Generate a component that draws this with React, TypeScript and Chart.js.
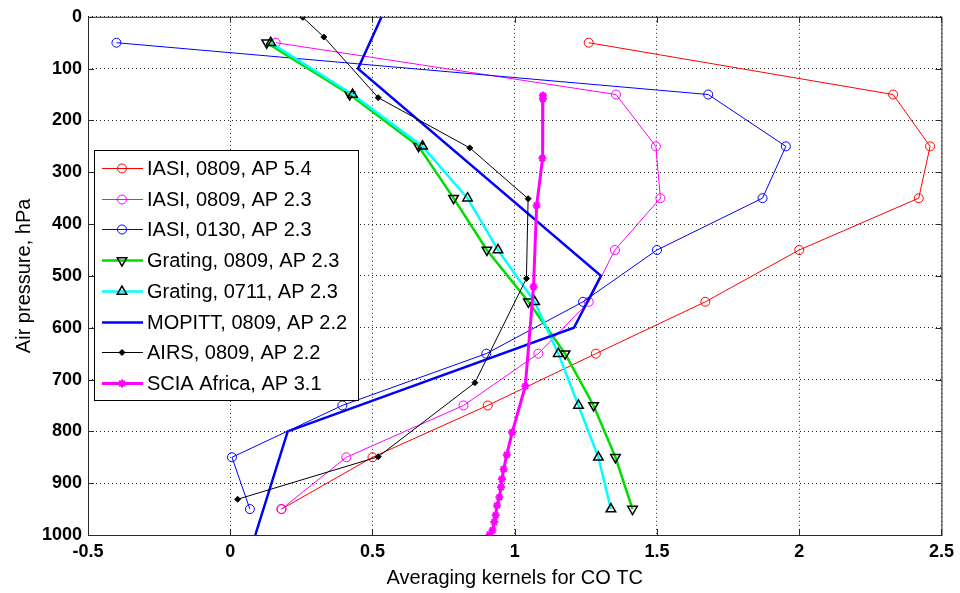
import React, { useEffect, useRef } from 'react';
import { Chart, registerables } from 'chart.js';
import { drawPoint } from 'chart.js/helpers';

Chart.register(...registerables);

// ---- axis ticks ----
const yTicks = [0, 100, 200, 300, 400, 500, 600, 700, 800, 900, 1000];
const xTicks = [-0.5, 0, 0.5, 1, 1.5, 2, 2.5];
const xTickLabels = ['-0.5', '0', '0.5', '1', '1.5', '2', '2.5'];

// ---- data ----
const iasiPressure = [50, 150, 250, 350, 450, 550, 650, 750, 850, 950];
const iasi0809ap54 = [1.26, 2.33, 2.46, 2.42, 2.0, 1.67, 1.285, 0.905, 0.5, 0.18];
const iasi0809ap23 = [0.16, 1.356, 1.496, 1.512, 1.352, 1.26, 1.083, 0.82, 0.408, 0.18];
const iasi0130ap23 = [-0.4, 1.68, 1.953, 1.871, 1.5, 1.24, 0.9, 0.394, 0.006, 0.069];

const gratingPressure = [50, 150, 250, 350, 450, 550, 650, 750, 850, 950];
const grating0809 = [0.128, 0.42, 0.662, 0.785, 0.902, 1.048, 1.177, 1.277, 1.354, 1.414];
const grating0711 = [0.142, 0.43, 0.676, 0.834, 0.941, 1.07, 1.153, 1.224, 1.294, 1.338];

const mopittPressure = [0, 100, 500, 600, 800, 1000];
const mopitt0809 = [0.532, 0.449, 1.303, 1.208, 0.202, 0.088];

const airsPressure = [1, 39, 156, 253, 351, 505, 706, 849, 931];
const airs0809 = [0.255, 0.329, 0.52, 0.842, 1.047, 1.041, 0.86, 0.52, 0.026];

const sciaPressure = [152, 158, 273, 364, 521, 713, 802, 845, 873, 892, 908, 927, 943, 962, 975, 991, 999];
const sciaAfrica = [1.099, 1.099, 1.097, 1.077, 1.066, 1.037, 0.991, 0.972, 0.961, 0.955, 0.952, 0.946, 0.938, 0.933, 0.928, 0.922, 0.912];

const seriesLabels = [
  'IASI, 0809, AP 5.4',
  'IASI, 0809, AP 2.3',
  'IASI, 0130, AP 2.3',
  'Grating, 0809, AP 2.3',
  'Grating, 0711, AP 2.3',
  'MOPITT, 0809, AP 2.2',
  'AIRS, 0809, AP 2.2',
  'SCIA Africa, AP 3.1',
];

const FONT = "'Liberation Sans', Arial, Helvetica, sans-serif";

const mk = (ps: number[], vs: number[]) => ps.map((p, i) => ({ x: vs[i], y: p }));

export default function App() {
  const ref = useRef<HTMLCanvasElement>(null);

  useEffect(() => {
    document.body.style.margin = '0';
    const canvas = ref.current!;
    const datasets: any[] = [
      {
        label: seriesLabels[0], data: mk(iasiPressure, iasi0809ap54),
        borderColor: '#ff0000', borderWidth: 1,
        pointStyle: 'circle', pointRadius: 4.5, pointBorderColor: '#ff0000',
        pointBackgroundColor: 'rgba(0,0,0,0)', pointBorderWidth: 1,
      },
      {
        label: seriesLabels[1], data: mk(iasiPressure, iasi0809ap23),
        borderColor: '#ff00ff', borderWidth: 1,
        pointStyle: 'circle', pointRadius: 4.5, pointBorderColor: '#ff00ff',
        pointBackgroundColor: 'rgba(0,0,0,0)', pointBorderWidth: 1,
      },
      {
        label: seriesLabels[2], data: mk(iasiPressure, iasi0130ap23),
        borderColor: '#0000ff', borderWidth: 1,
        pointStyle: 'circle', pointRadius: 4.5, pointBorderColor: '#0000ff',
        pointBackgroundColor: 'rgba(0,0,0,0)', pointBorderWidth: 1,
      },
      {
        label: seriesLabels[3], data: mk(gratingPressure, grating0809),
        borderColor: '#00dd00', borderWidth: 2.5,
        pointStyle: 'triangle', pointRotation: 180, pointRadius: 5.5, pointBorderColor: '#000000',
        pointBackgroundColor: 'rgba(0,0,0,0)', pointBorderWidth: 1.5,
      },
      {
        label: seriesLabels[4], data: mk(gratingPressure, grating0711),
        borderColor: '#00ffff', borderWidth: 2.5,
        pointStyle: 'triangle', pointRotation: 0, pointRadius: 5.5, pointBorderColor: '#000000',
        pointBackgroundColor: 'rgba(0,0,0,0)', pointBorderWidth: 1.5,
      },
      {
        label: seriesLabels[5], data: mk(mopittPressure, mopitt0809),
        borderColor: '#0000ff', borderWidth: 2.5,
        pointRadius: 0, pointStyle: false,
      },
      {
        label: seriesLabels[6], data: mk(airsPressure, airs0809),
        borderColor: '#000000', borderWidth: 1,
        pointStyle: 'rectRot', pointRadius: 3, pointBorderColor: '#000000',
        pointBackgroundColor: '#000000', pointBorderWidth: 1,
      },
      {
        label: seriesLabels[7], data: mk(sciaPressure, sciaAfrica),
        borderColor: '#ff00ff', borderWidth: 3,
        pointStyle: 'star', pointRadius: 4, pointBorderColor: '#ff00ff',
        pointBackgroundColor: '#ff00ff', pointBorderWidth: 2,
      },
    ];
    const n = datasets.length;
    datasets.forEach((d, i) => {
      d.showLine = true;
      d.order = n - i;
      d.pointHoverRadius = d.pointRadius;
    });

    const framePlugin = {
      id: 'frame',
      afterDatasetsDraw(chart: any) {
        const { ctx, chartArea: a, scales } = chart;
        const xs = scales.x, ys = scales.y;
        ctx.save();
        ctx.strokeStyle = '#2a2a2a';
        ctx.lineWidth = 1;
        ctx.setLineDash([]);
        ctx.strokeRect(a.left + 0.5, a.top + 0.5, a.right - a.left, a.bottom - a.top);
        const tl = 6;
        ctx.beginPath();
        xTicks.forEach((v) => {
          const px = Math.round(xs.getPixelForValue(v)) + 0.5;
          ctx.moveTo(px, a.bottom); ctx.lineTo(px, a.bottom - tl);
          ctx.moveTo(px, a.top); ctx.lineTo(px, a.top + tl);
        });
        yTicks.forEach((v) => {
          const py = Math.round(ys.getPixelForValue(v)) + 0.5;
          ctx.moveTo(a.left, py); ctx.lineTo(a.left + tl, py);
          ctx.moveTo(a.right, py); ctx.lineTo(a.right - tl, py);
        });
        ctx.stroke();
        ctx.restore();
      },
    };

    const legendPlugin = {
      id: 'matlabLegend',
      afterDraw(chart: any) {
        const ctx = chart.ctx;
        const L = { left: 94, top: 150, right: 358, bottom: 400 };
        ctx.save();
        ctx.fillStyle = '#ffffff';
        ctx.fillRect(L.left, L.top, L.right - L.left, L.bottom - L.top);
        ctx.strokeStyle = '#000000';
        ctx.lineWidth = 1;
        ctx.strokeRect(L.left + 0.5, L.top + 0.5, L.right - L.left, L.bottom - L.top);
        ctx.font = `20px ${FONT}`;
        ctx.textBaseline = 'middle';
        ctx.textAlign = 'left';
        datasets.forEach((ds, i) => {
          const yy = Math.round(168 + i * 30.7) + 0.5;
          ctx.strokeStyle = ds.borderColor;
          ctx.lineWidth = ds.borderWidth;
          ctx.beginPath();
          ctx.moveTo(102, yy);
          ctx.lineTo(143, yy);
          ctx.stroke();
          if (ds.pointRadius > 0) {
            ctx.fillStyle = ds.pointBackgroundColor;
            ctx.strokeStyle = ds.pointBorderColor;
            ctx.lineWidth = ds.pointBorderWidth;
            drawPoint(ctx, {
              pointStyle: ds.pointStyle,
              rotation: ds.pointRotation || 0,
              radius: ds.pointRadius,
              borderWidth: ds.pointBorderWidth,
            } as any, 122, yy);
          }
          ctx.fillStyle = '#000000';
          ctx.fillText(ds.label, 147, yy + 1);
        });
        ctx.restore();
      },
    };

    const chart = new Chart(canvas, {
      type: 'scatter',
      data: { datasets },
      options: {
        animation: false,
        responsive: false,
        devicePixelRatio: 1,
        layout: { padding: { left: 0, right: 16, top: 15, bottom: 0 } },
        plugins: {
          legend: { display: false },
          tooltip: { enabled: false },
        },
        events: [],
        scales: {
          x: {
            type: 'linear',
            min: -0.5,
            max: 2.5,
            afterBuildTicks: (axis: any) => { axis.ticks = xTicks.map((v) => ({ value: v })); },
            afterFit: (scale: any) => { scale.height = 58; },
            ticks: {
              autoSkip: false, maxRotation: 0, padding: 6,
              color: '#000', font: { family: FONT, size: 18, weight: 'bold' },
              callback: (v: any) => { const i = xTicks.indexOf(Number(v)); return i >= 0 ? xTickLabels[i] : ''; },
            },
            grid: { color: 'rgba(0,0,0,0.85)', lineWidth: 1, drawTicks: false },
            border: { display: false, dash: [1, 3] },
            title: {
              display: true, text: 'Averaging kernels for CO TC', color: '#000',
              font: { family: FONT, size: 20 }, padding: { top: 0, bottom: 3 },
            },
          },
          y: {
            type: 'linear',
            reverse: true,
            min: 0,
            max: 1000,
            afterBuildTicks: (axis: any) => { axis.ticks = yTicks.map((v) => ({ value: v })); },
            afterFit: (scale: any) => { scale.width = 88; },
            ticks: {
              autoSkip: false, padding: 6,
              color: '#000', font: { family: FONT, size: 18, weight: 'bold' },
              callback: (v: any) => String(v),
            },
            grid: { color: 'rgba(0,0,0,0.85)', lineWidth: 1, drawTicks: false },
            border: { display: false, dash: [1, 3] },
            title: {
              display: true, text: 'Air pressure, hPa', color: '#000',
              font: { family: FONT, size: 20 }, padding: { top: 12, bottom: 0 },
            },
          },
        },
      } as any,
      plugins: [framePlugin, legendPlugin],
    });
    return () => chart.destroy();
  }, []);

  return (
    <div style={{ width: 960, height: 593, position: 'relative', background: '#fff' }}>
      <canvas ref={ref} width={960} height={593} style={{ display: 'block' }} />
    </div>
  );
}
